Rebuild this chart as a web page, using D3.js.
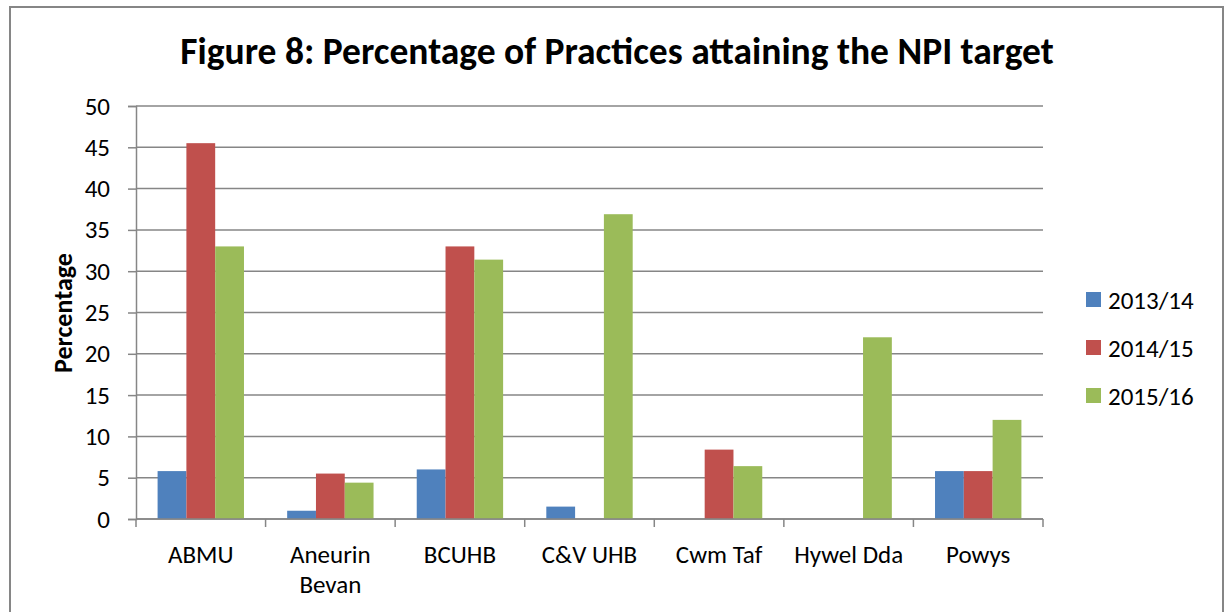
<!DOCTYPE html>
<html>
<head>
<meta charset="utf-8">
<script src="https://cdn.jsdelivr.net/npm/d3@7"></script>
<style>
  body { margin: 0; background: #fff; }
  text { font-family: Carlito, Lato, "Open Sans", sans-serif; fill: #000; }
</style>
</head>
<body>
<svg width="1225" height="612"></svg>
<script>
// Data
const boards = ["ABMU", "Aneurin Bevan", "BCUHB", "C&V UHB", "Cwm Taf", "Hywel Dda", "Powys"];
const years = ["2013/14", "2014/15", "2015/16"];
const v2013 = [5.8, 1, 6, 1.5, 0, 0, 5.8];
const v2014 = [45.5, 5.5, 33, 0, 8.4, 0, 5.8];
const v2015 = [33, 4.4, 31.4, 36.9, 6.4, 22, 12];
const yTicks = [0, 5, 10, 15, 20, 25, 30, 35, 40, 45, 50];
const colors = ["#4F81BD", "#C0504D", "#9BBB59"];

const series = [v2013, v2014, v2015];
const rows = boards.map((b, i) => ({ board: b, values: years.map((y, j) => ({ year: y, value: series[j][i] })) }));

const svg = d3.select("svg");
const grey = "#868686";

// chart frame
svg.append("rect")
    .attr("x", 10).attr("y", 7).attr("width", 1213).attr("height", 620)
    .attr("fill", "none").attr("stroke", grey).attr("stroke-width", 2);

const plotL = 136, plotR = 1043, plotT = 106, plotB = 519;

const x = d3.scaleBand().domain(boards).range([plotL, plotR]).padding(0);
const xi = d3.scaleBand().domain(years).range([0, x.bandwidth()]).paddingInner(0).paddingOuter(0.75);
const y = d3.scaleLinear().domain([0, 50]).range([plotB, plotT]);
const color = d3.scaleOrdinal().domain(years).range(colors);

// gridlines
svg.append("g")
    .selectAll("line")
    .data(yTicks)
    .join("line")
    .attr("x1", plotL).attr("x2", plotR)
    .attr("y1", d => y(d)).attr("y2", d => y(d))
    .attr("stroke", grey).attr("stroke-width", 1.5);

// y axis
const yAxis = svg.append("g")
    .attr("transform", `translate(${plotL},0)`)
    .call(d3.axisLeft(y).tickValues(yTicks).tickSize(8).tickPadding(18));
yAxis.select(".domain").attr("stroke", grey).attr("stroke-width", 1.5);
yAxis.selectAll(".tick line").attr("stroke", grey).attr("stroke-width", 1.5);
yAxis.selectAll(".tick text").style("font-size", "25px").attr("font-family", null).attr("fill", "#000");

// bars
svg.append("g")
    .selectAll("g")
    .data(rows)
    .join("g")
    .attr("transform", d => `translate(${x(d.board)},0)`)
    .selectAll("rect")
    .data(d => d.values.filter(v => v.value > 0))
    .join("rect")
    .attr("x", d => xi(d.year))
    .attr("width", xi.bandwidth())
    .attr("y", d => y(d.value))
    .attr("height", d => y(0) - y(d.value))
    .attr("fill", d => color(d.year));

// x axis line and ticks at category boundaries
svg.append("line")
    .attr("x1", plotL).attr("x2", plotR).attr("y1", plotB).attr("y2", plotB)
    .attr("stroke", grey).attr("stroke-width", 1.5);
svg.append("g")
    .selectAll("line")
    .data(boards.map(b => x(b)).concat([plotR]))
    .join("line")
    .attr("x1", d => d).attr("x2", d => d)
    .attr("y1", plotB).attr("y2", plotB + 8)
    .attr("stroke", grey).attr("stroke-width", 1.5);

// category labels, wrapped when wider than the band
const xLabels = svg.append("g")
    .selectAll("text")
    .data(boards)
    .join("text")
    .attr("x", d => x(d) + x.bandwidth() / 2)
    .attr("y", 563)
    .attr("text-anchor", "middle")
    .style("font-size", "25px")
    .text(d => d);
xLabels.each(function(d) {
    const t = d3.select(this);
    if (this.getComputedTextLength() > x.bandwidth() + 10) {
        const words = d.split(" ");
        t.text(null);
        words.forEach((w, i) => {
            t.append("tspan").attr("x", x(d) + x.bandwidth() / 2).attr("dy", i ? 30 : 0).text(w);
        });
    }
});

// y axis title
svg.append("text")
    .attr("transform", "translate(72,313) rotate(-90)")
    .attr("text-anchor", "middle")
    .style("font-size", "26px")
    .style("font-weight", "bold")
    .text("Percentage");

// title
svg.append("text")
    .attr("x", 617).attr("y", 64)
    .attr("text-anchor", "middle")
    .style("font-size", "37.5px")
    .style("font-weight", "bold")
    .text("Figure 8: Percentage of Practices attaining the NPI target");

// legend
const legend = svg.append("g").attr("transform", "translate(1086,292)");
years.forEach((yr, i) => {
    legend.append("rect").attr("x", 0).attr("y", i * 48).attr("width", 15).attr("height", 15).attr("fill", color(yr));
    legend.append("text").attr("x", 22).attr("y", i * 48 + 17).style("font-size", "25px").text(yr);
});
</script>
</body>
</html>
